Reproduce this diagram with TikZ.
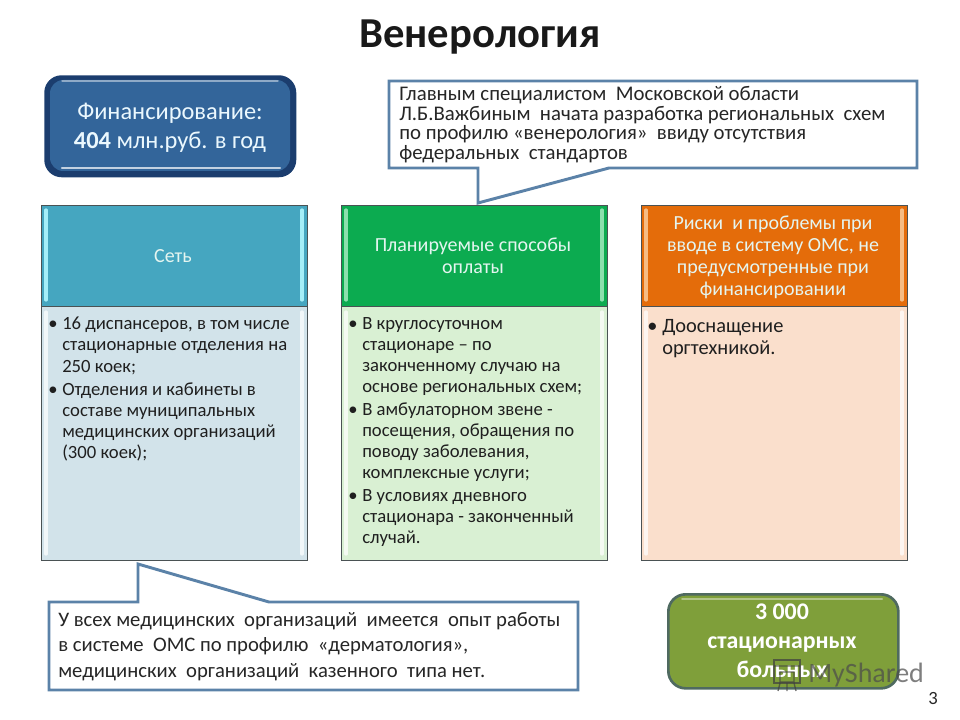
\documentclass[tikz,border=0pt]{standalone}
\usepackage{fontspec}
\setmainfont{Carlito}
\newcommand{\bl}{\makebox[0pt][r]{•\hspace{3.5pt}}}
\definecolor{fundOuter}{HTML}{1B3D6E}
\definecolor{fundInner}{HTML}{33659A}
\definecolor{frameGrey}{HTML}{4A5254}
\definecolor{calloutBlue}{HTML}{5B82A8}
\definecolor{tealHead}{HTML}{45A6C0}
\definecolor{tealBody}{HTML}{D2E3EA}
\definecolor{tealLine}{HTML}{A5EEF8}
\definecolor{greenHead}{HTML}{0CAB50}
\definecolor{greenBody}{HTML}{D9F0D3}
\definecolor{greenLine}{HTML}{8CE0AE}
\definecolor{orangeHead}{HTML}{E46C0A}
\definecolor{orangeBody}{HTML}{FADFCC}
\definecolor{orangeLine}{HTML}{F6BC84}
\definecolor{oliveFill}{HTML}{7F9F3A}
\definecolor{oliveEdge}{HTML}{4F6A60}
\definecolor{headText}{HTML}{E4F5F0}
\tikzset{
  x=0.75pt,y=-0.75pt,
  colbox/.style={draw=frameGrey,line width=1pt,inner sep=0pt,minimum width=199.5pt},
  headbox/.style={colbox,minimum height=75.75pt,anchor=north west},
  bodybox/.style={colbox,minimum height=190.5pt,anchor=north west},
  strip/.style={line width=2.4pt,line cap=round},
  headlabel/.style={align=center,text=headText,font=\fontsize{15}{16.5}\selectfont,inner sep=0pt},
  bodytext/.style={align=left,anchor=north west,inner sep=0pt,text=black!88,font=\fontsize{14}{15.8}\selectfont},
  callout/.style={draw=calloutBlue,fill=white,line width=2.2pt,line join=miter},
  callouttext/.style={align=left,anchor=north west,inner sep=0pt,text=black!85},
  bigbox/.style={rounded corners=13pt,inner sep=0pt,anchor=north west}
}
\begin{document}
\begin{tikzpicture}
\useasboundingbox (0,0) rectangle (960,720);
% title
\node[inner sep=0pt,font=\fontsize{32}{36}\bfseries\selectfont,text=black!90] (title) at (480,37) {Венерология};
% funding box
\node[bigbox,fill=fundOuter,minimum width=189pt,minimum height=76.5pt] (fund) at (44,75) {};
\fill[fundInner,rounded corners=10pt] (50,80) rectangle (290,171);
\draw[white!70!fundInner,line width=1.6pt,line cap=round] (62,168) -- (280,168);
\draw[white!45!fundInner,line width=1pt,line cap=round] (62,81) -- (278,81);
\node[align=center,inner sep=0pt,text=white!92!cyan,font=\fontsize{18.3}{22}\selectfont] (fundtext) at (170,128) {Финансирование:\\\textbf{404} млн.руб. в год};
% callout top
\draw[callout] (389,81) -- (917,81) -- (917,168) -- (609,168) -- (478,203) -- (478,168) -- (389,168) -- cycle;
\node[callouttext,font=\fontsize{15.6}{14.7}\selectfont] (ctop) at (399,86) {Главным специалистом\ \ Московской области\\Л.Б.Важбиным\ \ начата разработка региональных\ \ схем\\по профилю «венерология»\ \ ввиду отсутствия\\федеральных\ \ стандартов};
% column 1
\node[headbox,fill=tealHead] (h1) at (41,205) {};
\node[bodybox,fill=tealBody] (b1) at (41,306) {};
\draw[strip,tealLine] (46,210) -- (46,300) (302,210) -- (302,300);
\draw[strip,white!70!tealBody] (46,312) -- (46,554) (302,312) -- (302,554);
\node[headlabel] (h1t) at (173,256) {Сеть};
\node[bodytext] (b1t) at (62,317) {\bl 16 диспансеров, в том числе\\стационарные отделения на\\250 коек;\\[1.5pt]\bl Отделения\ и кабинеты в\\составе муниципальных\\медицинских организаций\\(300 коек);};
% column 2
\node[headbox,fill=greenHead] (h2) at (341,205) {};
\node[bodybox,fill=greenBody] (b2) at (341,306) {};
\draw[strip,greenLine] (346,210) -- (346,300) (602,210) -- (602,300);
\draw[strip,white!70!greenBody] (346,312) -- (346,554) (602,312) -- (602,554);
\node[headlabel] (h2t) at (473,256) {Планируемые способы\\оплаты};
\node[bodytext] (b2t) at (362,317) {\bl В круглосуточном\\стационаре -- по\\законченному случаю на\\основе региональных схем;\\[1.5pt]\bl В амбулаторном звене -\\посещения, обращения по\\поводу заболевания,\\комплексные услуги;\\[1.5pt]\bl В условиях дневного\\стационара - законченный\\случай.};
% column 3
\node[headbox,fill=orangeHead] (h3) at (641,205) {};
\node[bodybox,fill=orangeBody] (b3) at (641,306) {};
\draw[strip,orangeLine] (646,210) -- (646,300) (902,210) -- (902,300);
\draw[strip,white!70!orangeBody] (646,312) -- (646,554) (902,312) -- (902,554);
\node[headlabel] (h3t) at (773,257) {Риски\ \ и проблемы при\\вводе в систему ОМС, не\\предусмотренные при\\финансировании};
\node[bodytext,font=\fontsize{15.3}{16.5}\selectfont] (b3t) at (662,319) {\bl Дооснащение\\оргтехникой.};
% callout bottom
\draw[callout] (49,602) -- (138,602) -- (138,564) -- (269,602) -- (578,602) -- (578,690) -- (49,690) -- cycle;
\node[callouttext,font=\fontsize{15.5}{19}\selectfont] (cbot) at (58,612) {У всех медицинских\ \ организаций\ \ имеется\ \ опыт работы\\в системе\ \ ОМС по профилю\ \ «дерматология»,\\медицинских\ \ организаций\ \ казенного\ \ типа нет.};
% green box
\node[bigbox,draw=oliveEdge,line width=2pt,fill=oliveFill,minimum width=172.5pt,minimum height=70.5pt] (beds) at (667,593) {};
\draw[white!40!oliveFill,line width=1.5pt,line cap=round] (682,599) -- (882,599);
\node[align=center,inner sep=0pt,text=white,font=\fontsize{17.9}{21.8}\bfseries\selectfont] (bedstext) at (782,641) {3 000\\стационарных\\больных};
% watermark
\begin{scope}[opacity=.72,draw=black!75,text=black!70]
\draw[line width=1.5pt] (774,660) rectangle (800,683);
\draw[line width=1pt] (774,666) -- (800,666) (780,672) rectangle (794,682) (780,683) -- (778,691) (787,683) -- (787,691) (794,683) -- (796,691);
\node[inner sep=0pt,anchor=west,font=\fontsize{21}{24}\selectfont] (mark) at (808,675) {MyShared};
\end{scope}
\node[inner sep=0pt,font=\fontsize{14}{15}\selectfont,text=black!85] (pageno) at (933,699) {3};
\end{tikzpicture}
\end{document}
